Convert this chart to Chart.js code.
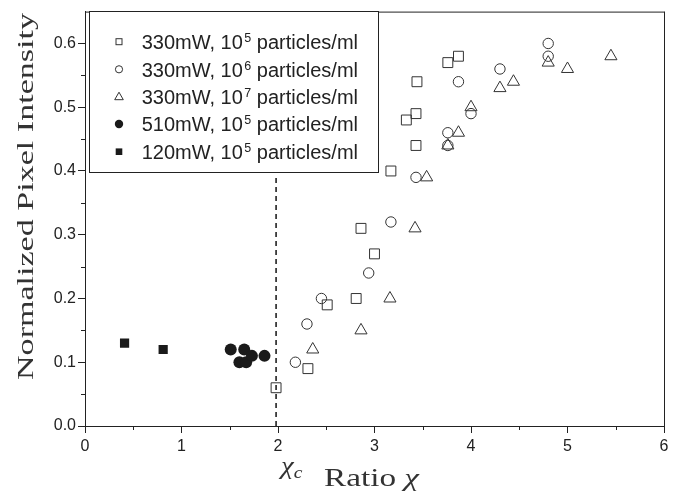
<!DOCTYPE html>
<html><head><meta charset="utf-8">
<script src="https://cdn.jsdelivr.net/npm/chart.js@4.4.1/dist/chart.umd.min.js"></script>
<style>html,body{margin:0;padding:0;background:#fff;}#wrap{width:676px;height:497px;}</style>
</head><body><div id="wrap"><canvas id="c" width="676" height="497"></canvas></div>
<script>
// ---- data ----
const xTicks = [0, 1, 2, 3, 4, 5, 6];
const yTicks = [0.0, 0.1, 0.2, 0.3, 0.4, 0.5, 0.6];
const legendLabels = ["330mW, 10|5| particles/ml", "330mW, 10|6| particles/ml", "330mW, 10|7| particles/ml", "510mW, 10|5| particles/ml", "120mW, 10|5| particles/ml"];

const s330e5X = [1.98, 2.31, 2.51, 2.81, 2.86, 3.00, 3.17, 3.33, 3.43, 3.43, 3.44, 3.76, 3.87];
const s330e5Y = [0.06, 0.09, 0.19, 0.20, 0.31, 0.27, 0.40, 0.48, 0.44, 0.49, 0.54, 0.57, 0.58];

const s330e6X = [2.18, 2.30, 2.45, 2.94, 3.17, 3.43, 3.76, 3.76, 3.87, 4.00, 4.30, 4.80, 4.80];
const s330e6Y = [0.10, 0.16, 0.20, 0.24, 0.32, 0.39, 0.44, 0.46, 0.54, 0.49, 0.56, 0.58, 0.60];

const s330e7X = [2.36, 2.86, 3.16, 3.42, 3.54, 3.76, 3.87, 4.00, 4.30, 4.44, 4.80, 5.00, 5.45];
const s330e7Y = [0.12, 0.15, 0.20, 0.31, 0.39, 0.44, 0.46, 0.50, 0.53, 0.54, 0.57, 0.56, 0.58];

const s510e5X = [1.51, 1.65, 1.60, 1.67, 1.73, 1.86];
const s510e5Y = [0.12, 0.12, 0.10, 0.10, 0.11, 0.11];

const s120e5X = [0.41, 0.81];
const s120e5Y = [0.13, 0.12];

const chiC = 1.98;
const chiLineTop = 0.395;

const zip = (xs, ys) => xs.map((x, i) => ({x: x, y: ys[i]}));
const INK = '#222';

function isMajorX(v) { return Math.abs(v - Math.round(v)) < 1e-6; }
function isMajorY(v) { return Math.round(v * 100) % 10 === 0; }

const framePlugin = {
  id: 'frame',
  afterDatasetsDraw(chart) {
    const ctx = chart.ctx, a = chart.chartArea;
    const xs = chart.scales.x, ys = chart.scales.y;
    ctx.save();
    ctx.strokeStyle = INK; ctx.lineWidth = 1;
    ctx.beginPath();
    ctx.moveTo(a.left, a.top + 0.5); ctx.lineTo(a.right + 0.5, a.top + 0.5);
    ctx.moveTo(a.right + 0.5, a.top); ctx.lineTo(a.right + 0.5, a.bottom);
    // minor ticks
    xs.ticks.forEach(t => {
      if (!isMajorX(t.value)) {
        const p = Math.round(xs.getPixelForValue(t.value)) + 0.5;
        ctx.moveTo(p, a.bottom); ctx.lineTo(p, a.bottom + 4);
      }
    });
    ys.ticks.forEach(t => {
      if (!isMajorY(t.value) && t.value < 0.64) {
        const p = Math.round(ys.getPixelForValue(t.value)) + 0.5;
        ctx.moveTo(a.left, p); ctx.lineTo(a.left - 4, p);
      }
    });
    ctx.stroke();

    // legend
    const L = 89.5, T = 11.5, W = 289, H = 161;
    ctx.fillStyle = '#fff';
    ctx.fillRect(L, T, W, H);
    ctx.strokeRect(L, T, W, H);
    const rows = [41.7, 69.3, 96.7, 124, 151.7];
    const mx = 119;
    rows.forEach((cy, i) => {
      ctx.beginPath();
      ctx.lineWidth = 1; ctx.strokeStyle = '#333'; ctx.fillStyle = '#1a1a1a';
      if (i === 0) { ctx.strokeRect(mx - 3, cy - 3, 6, 6); }
      else if (i === 1) { ctx.arc(mx, cy, 3.6, 0, Math.PI * 2); ctx.stroke(); }
      else if (i === 2) { ctx.moveTo(mx, cy - 4.5); ctx.lineTo(mx + 4.3, cy + 3); ctx.lineTo(mx - 4.3, cy + 3); ctx.closePath(); ctx.stroke(); }
      else if (i === 3) { ctx.arc(mx, cy, 4.2, 0, Math.PI * 2); ctx.fill(); }
      else { ctx.fillRect(mx - 3.3, cy - 3.3, 6.6, 6.6); }
      const parts = legendLabels[i].split('|');
      const base = cy + 7.2;
      let x = 141.7;
      ctx.fillStyle = INK;
      ctx.textAlign = 'left'; ctx.textBaseline = 'alphabetic';
      ctx.font = '20px "Liberation Sans", Arial, sans-serif';
      ctx.fillText(parts[0], x, base); x += ctx.measureText(parts[0]).width + 1.5;
      ctx.font = '12.5px "Liberation Sans", Arial, sans-serif';
      ctx.fillText(parts[1], x, base - 7); x += ctx.measureText(parts[1]).width;
      ctx.font = '20px "Liberation Sans", Arial, sans-serif';
      ctx.fillText(parts[2], x, base);
    });

    // axis titles
    ctx.fillStyle = '#333';
    ctx.font = '24px "Liberation Serif", "Times New Roman", serif';
    const yt = 'Normalized Pixel Intensity';
    const yw = ctx.measureText(yt).width;
    ctx.save();
    ctx.translate(33, 196.5);
    ctx.rotate(-Math.PI / 2);
    ctx.scale(367 / yw, 1);
    ctx.textAlign = 'center'; ctx.textBaseline = 'alphabetic';
    ctx.fillText(yt, 0, 0);
    ctx.restore();

    // x title: "Ratio χ"
    ctx.save();
    ctx.font = '25px "Liberation Serif", "Times New Roman", serif';
    const w1 = ctx.measureText('Ratio ').width;
    ctx.font = 'italic 25px "Liberation Serif", "Times New Roman", serif';
    const w2 = ctx.measureText('χ').width;
    const sx = 95 / (w1 + w2);
    ctx.translate(324, 486);
    ctx.scale(sx, 1);
    ctx.textAlign = 'left'; ctx.textBaseline = 'alphabetic';
    ctx.font = '25px "Liberation Serif", "Times New Roman", serif';
    ctx.fillText('Ratio ', 0, 0);
    ctx.font = 'italic 25px "Liberation Serif", "Times New Roman", serif';
    ctx.fillText('χ', w1, 0);
    ctx.restore();

    // χc label under the critical ratio
    ctx.save();
    ctx.textAlign = 'left'; ctx.textBaseline = 'alphabetic';
    ctx.font = 'italic 25px "Liberation Serif", "Times New Roman", serif';
    const cw = ctx.measureText('χ').width;
    ctx.translate(281, 474);
    ctx.scale(1.15, 1);
    ctx.fillText('χ', 0, 0);
    ctx.font = 'italic 17px "Liberation Serif", "Times New Roman", serif';
    ctx.fillText('c', cw, 4);
    ctx.restore();

    ctx.restore();
  }
};

const openStyle = {borderColor: '#333', backgroundColor: 'rgba(0,0,0,0)', borderWidth: 1};

new Chart(document.getElementById('c'), {
  type: 'scatter',
  data: {
    datasets: [
      {type: 'line', label: 'chi_c', data: [{x: chiC, y: 0}, {x: chiC, y: chiLineTop}], borderColor: '#000', borderWidth: 1.4, borderDash: [5, 4], pointRadius: 0, showLine: true, fill: false},
      Object.assign({label: 'a', data: zip(s330e5X, s330e5Y), pointStyle: 'rect', pointRadius: 7}, openStyle),
      Object.assign({label: 'b', data: zip(s330e6X, s330e6Y), pointStyle: 'circle', pointRadius: 5.2}, openStyle),
      Object.assign({label: 'c', data: zip(s330e7X, s330e7Y), pointStyle: 'triangle', pointRadius: 7}, openStyle),
      {label: 'd', data: zip(s510e5X, s510e5Y), pointStyle: 'circle', pointRadius: 6, backgroundColor: '#1a1a1a', borderColor: '#1a1a1a', borderWidth: 0},
      {label: 'e', data: zip(s120e5X, s120e5Y), pointStyle: 'rect', pointRadius: 6.5, backgroundColor: '#1a1a1a', borderColor: '#1a1a1a', borderWidth: 0}
    ]
  },
  options: {
    responsive: false, animation: false, devicePixelRatio: 1,
    layout: {padding: {left: 0, right: 12, top: 7, bottom: 0}},
    plugins: {legend: {display: false}, tooltip: {enabled: false}},
    elements: {point: {hoverRadius: 0}},
    scales: {
      x: {
        type: 'linear', min: 0, max: 6,
        afterFit: s => { s.height = 71; },
        afterBuildTicks: s => { const t = []; for (let i = 0; i <= 12; i++) t.push({value: i / 2}); s.ticks = t; },
        ticks: {autoSkip: false, maxRotation: 0, padding: 4, color: INK,
          font: {family: '"Liberation Sans", Arial, sans-serif', size: 16},
          callback: v => isMajorX(v) ? String(Math.round(v)) : ''},
        grid: {drawOnChartArea: false, drawTicks: true, tickLength: 7, tickWidth: 1,
          tickColor: c => (c.tick && isMajorX(c.tick.value)) ? INK : 'rgba(0,0,0,0)'},
        border: {display: true, color: INK, width: 1}
      },
      y: {
        type: 'linear', min: 0, max: 0.65,
        afterFit: s => { s.width = 85; },
        afterBuildTicks: s => { const t = []; for (let i = 0; i <= 13; i++) t.push({value: i * 0.05}); s.ticks = t; },
        ticks: {autoSkip: false, padding: 2, color: INK,
          font: {family: '"Liberation Sans", Arial, sans-serif', size: 16},
          callback: v => (isMajorY(v) && v < 0.64) ? v.toFixed(1) : ''},
        grid: {drawOnChartArea: false, drawTicks: true, tickLength: 7, tickWidth: 1,
          tickColor: c => (c.tick && isMajorY(c.tick.value) && c.tick.value < 0.64) ? INK : 'rgba(0,0,0,0)'},
        border: {display: true, color: INK, width: 1}
      }
    }
  },
  plugins: [framePlugin]
});
</script></body></html>
